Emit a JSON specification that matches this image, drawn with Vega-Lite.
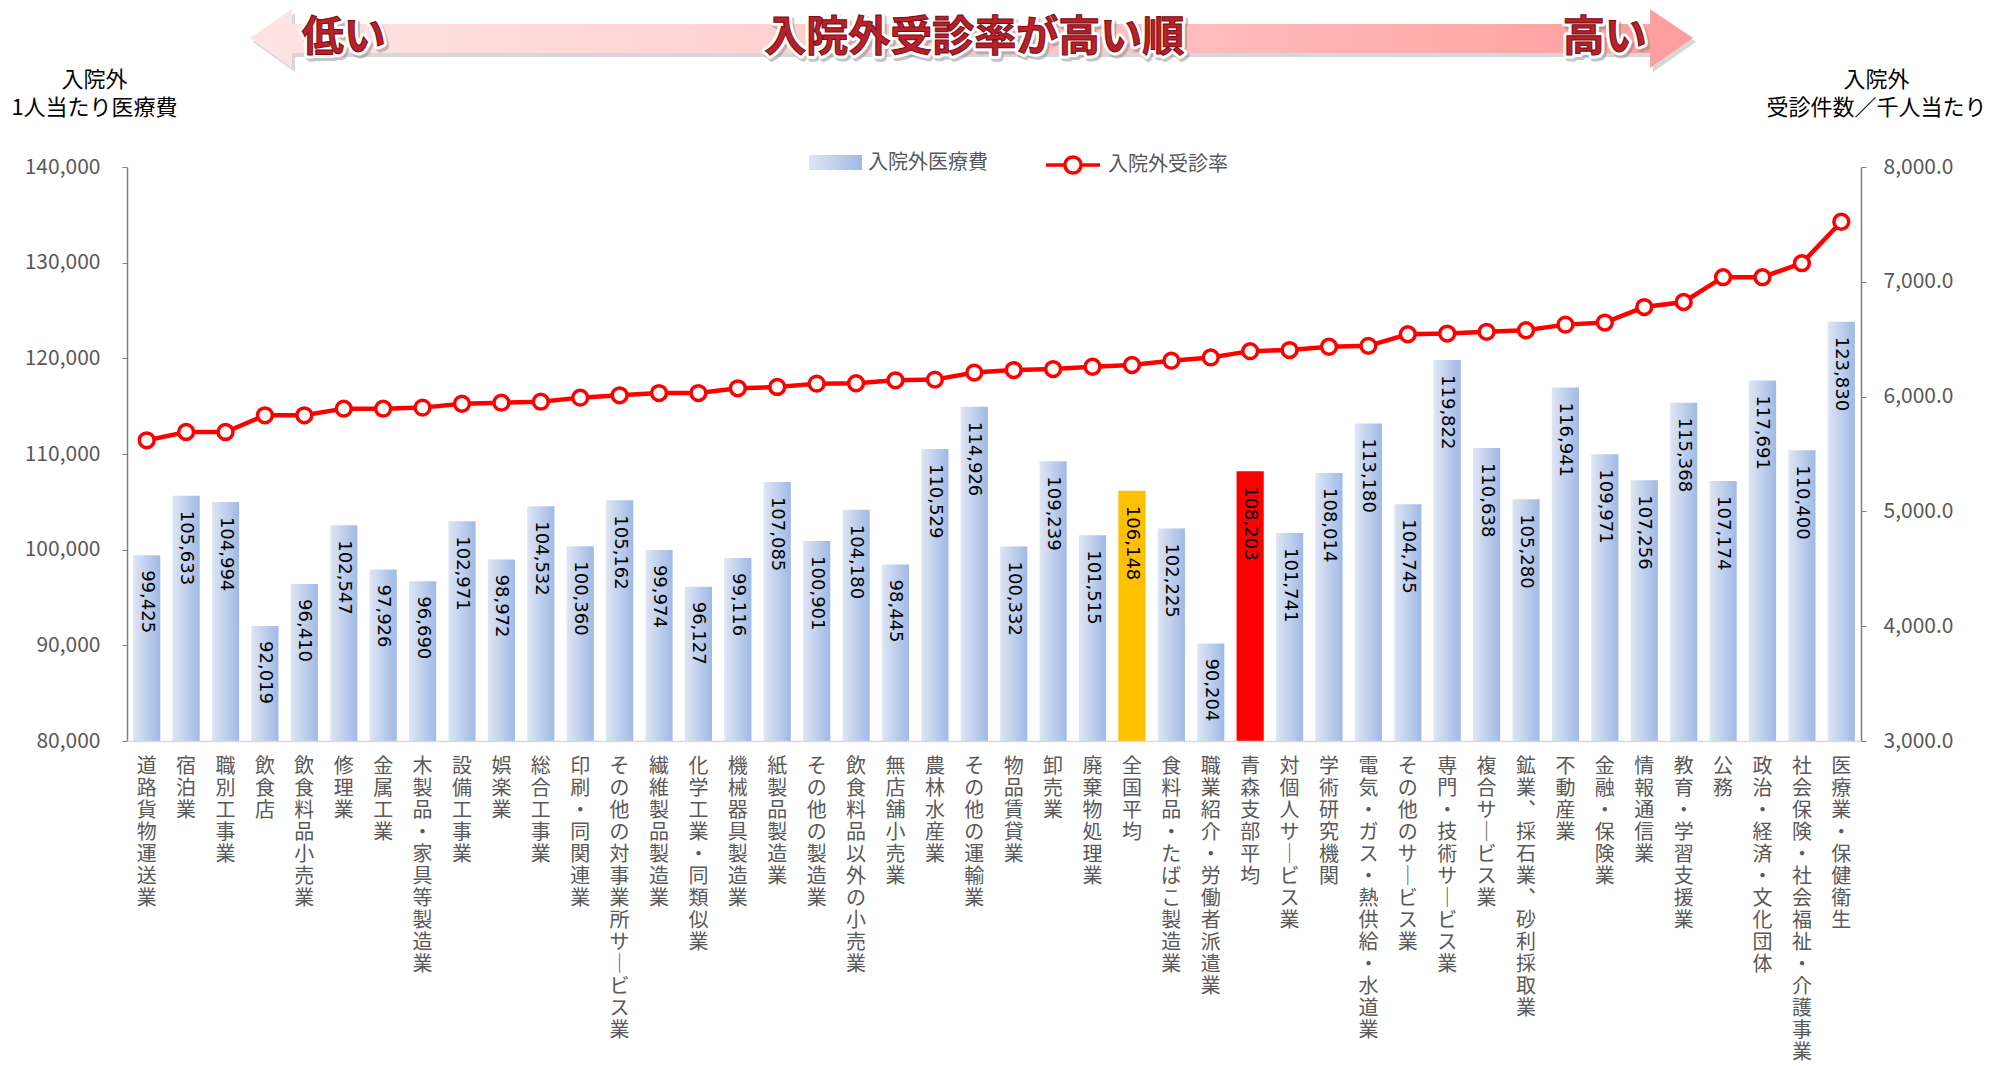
{
  "$schema": "https://vega.github.io/schema/vega-lite/v6.json",
  "width": 1734,
  "height": 574,
  "autosize": {"type": "none"},
  "padding": {"left": 127, "top": 167, "right": 134, "bottom": 325},
  "background": "white",
  "config": {"view": {"stroke": null}, "font": "Noto Sans CJK JP"},
  "data": {"values": [
    {"cat": "道路貨物運送業", "cost": 99425, "rate": 5619},
    {"cat": "宿泊業", "cost": 105633, "rate": 5692},
    {"cat": "職別工事業", "cost": 104994, "rate": 5692},
    {"cat": "飲食店", "cost": 92019, "rate": 5837},
    {"cat": "飲食料品小売業", "cost": 96410, "rate": 5837},
    {"cat": "修理業", "cost": 102547, "rate": 5895},
    {"cat": "金属工業", "cost": 97926, "rate": 5895},
    {"cat": "木製品・家具等製造業", "cost": 96690, "rate": 5904},
    {"cat": "設備工事業", "cost": 102971, "rate": 5938},
    {"cat": "娯楽業", "cost": 98972, "rate": 5947},
    {"cat": "総合工事業", "cost": 104532, "rate": 5956},
    {"cat": "印刷・同関連業", "cost": 100360, "rate": 5991},
    {"cat": "その他の対事業所サービス業", "cost": 105162, "rate": 6011},
    {"cat": "繊維製品製造業", "cost": 99974, "rate": 6031},
    {"cat": "化学工業・同類似業", "cost": 96127, "rate": 6031},
    {"cat": "機械器具製造業", "cost": 99116, "rate": 6072},
    {"cat": "紙製品製造業", "cost": 107085, "rate": 6084},
    {"cat": "その他の製造業", "cost": 100901, "rate": 6113},
    {"cat": "飲食料品以外の小売業", "cost": 104180, "rate": 6116},
    {"cat": "無店舗小売業", "cost": 98445, "rate": 6142},
    {"cat": "農林水産業", "cost": 110529, "rate": 6148},
    {"cat": "その他の運輸業", "cost": 114926, "rate": 6209},
    {"cat": "物品賃貸業", "cost": 100332, "rate": 6231},
    {"cat": "卸売業", "cost": 109239, "rate": 6240},
    {"cat": "廃棄物処理業", "cost": 101515, "rate": 6260},
    {"cat": "全国平均", "cost": 106148, "rate": 6275},
    {"cat": "食料品・たばこ製造業", "cost": 102225, "rate": 6312},
    {"cat": "職業紹介・労働者派遣業", "cost": 90204, "rate": 6341},
    {"cat": "青森支部平均", "cost": 108203, "rate": 6396},
    {"cat": "対個人サービス業", "cost": 101741, "rate": 6405},
    {"cat": "学術研究機関", "cost": 108014, "rate": 6434},
    {"cat": "電気・ガス・熱供給・水道業", "cost": 113180, "rate": 6442},
    {"cat": "その他のサービス業", "cost": 104745, "rate": 6543},
    {"cat": "専門・技術サービス業", "cost": 119822, "rate": 6549},
    {"cat": "複合サービス業", "cost": 110638, "rate": 6564},
    {"cat": "鉱業、採石業、砂利採取業", "cost": 105280, "rate": 6578},
    {"cat": "不動産業", "cost": 116941, "rate": 6627},
    {"cat": "金融・保険業", "cost": 109971, "rate": 6645},
    {"cat": "情報通信業", "cost": 107256, "rate": 6780},
    {"cat": "教育・学習支援業", "cost": 115368, "rate": 6824},
    {"cat": "公務", "cost": 107174, "rate": 7040},
    {"cat": "政治・経済・文化団体", "cost": 117691, "rate": 7040},
    {"cat": "社会保険・社会福祉・介護事業", "cost": 110400, "rate": 7162},
    {"cat": "医療業・保健衛生", "cost": 123830, "rate": 7523}
  ]},
  "encoding": {
    "x": {
      "field": "cat",
      "type": "nominal",
      "sort": null,
      "scale": {"paddingInner": 0.31, "paddingOuter": 0.155},
      "axis": {
        "title": null,
        "labelExpr": "split(replace(replace(datum.label, regexp('ー', 'g'), '｜'), regexp('、', 'g'), '︑'), '')",
        "labelAngle": 0,
        "labelAlign": "center",
        "labelBaseline": "top",
        "labelFont": "Noto Sans CJK JP",
        "labelFontSize": 20,
        "labelLineHeight": 22,
        "labelColor": "#595959",
        "labelPadding": 15,
        "labelOverlap": false,
        "labelLimit": 0,
        "ticks": false,
        "domainColor": "#D9D9D9",
        "domainWidth": 1.5,
        "zindex": 1
      }
    }
  },
  "layer": [
    {
      "encoding": {
        "y": {
          "field": "cost",
          "type": "quantitative",
          "scale": {"domain": [80000, 140000], "nice": false, "zero": false},
          "axis": {
            "title": ["入院外", "1人当たり医療費"],
            "titleAngle": 0,
            "titleAlign": "center",
            "titleBaseline": "top",
            "titleX": -33,
            "titleY": -98,
            "titleFont": "Noto Sans CJK JP",
            "titleFontSize": 22,
            "titleFontWeight": "normal",
            "titleColor": "#000000",
            "titleLineHeight": 28,
            "values": [80000, 90000, 100000, 110000, 120000, 130000, 140000],
            "format": ",d",
            "labelFont": "Noto Sans CJK JP",
            "labelFontSize": 21,
            "labelColor": "#595959",
            "labelPadding": 22,
            "tickSize": 5,
            "tickColor": "#7F7F7F",
            "domainColor": "#7F7F7F",
            "domainWidth": 1.5,
            "grid": false
          }
        }
      },
      "layer": [
        {
          "mark": {"type": "bar", "strokeWidth": 0, "clip": true},
          "encoding": {
            "fill": {
              "condition": [
                {"test": "datum.cat === '全国平均'", "value": "#FFC000"},
                {"test": "datum.cat === '青森支部平均'", "value": "#FF0000"}
              ],
              "value": {"gradient": "linear", "x1": 0, "y1": 0, "x2": 1, "y2": 0,
                "stops": [{"offset": 0, "color": "#DFE6F5"}, {"offset": 1, "color": "#A0B9E4"}]}
            },
            "stroke": {
              "datum": "入院外医療費",
              "type": "nominal",
              "scale": {"domain": ["入院外医療費"], "range": ["#B4C7E7"]},
              "legend": {
                "orient": "none",
                "legendX": 682,
                "legendY": -31,
                "direction": "horizontal",
                "title": null,
                "padding": 0,
                "labelFont": "Noto Sans CJK JP",
                "labelFontSize": 20,
                "labelColor": "#595959",
                "labelOffset": 6,
                "symbolSize": 2809,
                "symbolStrokeWidth": 0,
                "symbolType": "M-1,-0.28H1V0.28H-1Z"
              }
            }
          }
        },
        {
          "mark": {"type": "text", "angle": 90, "align": "left", "baseline": "middle", "dx": 15, "font": "DejaVu Sans", "fontSize": 18, "color": "#000000"},
          "encoding": {
            "text": {"field": "cost", "type": "quantitative", "format": ",d"}
          }
        },
        {
          "transform": [{"filter": "datum.cat === 'その他の運輸業'"}],
          "mark": {"type": "point", "clip": false, "filled": true, "fill": "#8C8C8C", "opacity": 0.35, "strokeWidth": 0, "size": 2082249,
            "shape": "M-1.0,0.0055 L-0.9415,-0.0347 L-0.9415,-0.0139 L0.9407,-0.0139 L0.9407,-0.0347 L1.0003,0.0055 L0.9407,0.0471 L0.9407,0.0263 L-0.9415,0.0263 L-0.9415,0.0471 Z"},
          "encoding": {"y": {"datum": 153484, "type": "quantitative"}}
        },
        {
          "transform": [{"filter": "datum.cat === 'その他の運輸業'"}],
          "mark": {"type": "point", "clip": false, "filled": true, "opacity": 1, "strokeWidth": 0, "size": 2082249,
            "fill": {"gradient": "linear", "x1": 0, "y1": 0, "x2": 1, "y2": 0,
              "stops": [{"offset": 0, "color": "#FFE4E4"}, {"offset": 0.5, "color": "#FFCACA"}, {"offset": 1, "color": "#FF9C9C"}]},
            "shape": "M-1.0039,0 L-0.9457,-0.0402 L-0.9457,-0.0194 L0.9365,-0.0194 L0.9365,-0.0402 L0.9961,0 L0.9365,0.0416 L0.9365,0.0208 L-0.9457,0.0208 L-0.9457,0.0416 Z"},
          "encoding": {"y": {"datum": 153484, "type": "quantitative"}}
        },
        {
          "transform": [{"filter": "datum.cat === '修理業' || datum.cat === 'その他の運輸業' || datum.cat === '金融・保険業'"}],
          "mark": {"type": "text", "clip": false, "align": "center", "baseline": "middle", "dx": 2, "dy": 3, "font": "Noto Sans CJK JP", "fontWeight": "bold", "fontSize": 42,
            "fill": "#7F7F7F", "stroke": "#7F7F7F", "strokeWidth": 7, "strokeJoin": "round", "opacity": 0.45},
          "encoding": {
            "y": {"datum": 153484, "type": "quantitative"},
            "text": {"condition": [
              {"test": "datum.cat === '修理業'", "value": "低い"},
              {"test": "datum.cat === '金融・保険業'", "value": "高い"}
            ], "value": "入院外受診率が高い順"}
          }
        },
        {
          "transform": [{"filter": "datum.cat === '修理業' || datum.cat === 'その他の運輸業' || datum.cat === '金融・保険業'"}],
          "mark": {"type": "text", "clip": false, "align": "center", "baseline": "middle", "font": "Noto Sans CJK JP", "fontWeight": "bold", "fontSize": 42,
            "fill": "#FFFFFF", "stroke": "#FFFFFF", "strokeWidth": 7, "strokeJoin": "round"},
          "encoding": {
            "y": {"datum": 153484, "type": "quantitative"},
            "text": {"condition": [
              {"test": "datum.cat === '修理業'", "value": "低い"},
              {"test": "datum.cat === '金融・保険業'", "value": "高い"}
            ], "value": "入院外受診率が高い順"}
          }
        },
        {
          "transform": [{"filter": "datum.cat === '修理業' || datum.cat === 'その他の運輸業' || datum.cat === '金融・保険業'"}],
          "mark": {"type": "text", "clip": false, "align": "center", "baseline": "middle", "font": "Noto Sans CJK JP", "fontWeight": "bold", "fontSize": 42,
            "fill": "#B8212A", "stroke": "#7A0C12", "strokeWidth": 1},
          "encoding": {
            "y": {"datum": 153484, "type": "quantitative"},
            "text": {"condition": [
              {"test": "datum.cat === '修理業'", "value": "低い"},
              {"test": "datum.cat === '金融・保険業'", "value": "高い"}
            ], "value": "入院外受診率が高い順"}
          }
        }
      ]
    },
    {
      "encoding": {
        "y": {
          "field": "rate",
          "type": "quantitative",
          "scale": {"domain": [3000, 8000], "nice": false, "zero": false},
          "axis": {
            "orient": "right",
            "title": ["入院外", "受診件数／千人当たり"],
            "titleAngle": 0,
            "titleAlign": "center",
            "titleBaseline": "top",
            "titleX": 15,
            "titleY": -98,
            "titleFont": "Noto Sans CJK JP",
            "titleFontSize": 22,
            "titleFontWeight": "normal",
            "titleColor": "#000000",
            "titleLineHeight": 28,
            "values": [3000, 4000, 5000, 6000, 7000, 8000],
            "format": ",.1f",
            "labelFont": "Noto Sans CJK JP",
            "labelFontSize": 21,
            "labelColor": "#595959",
            "labelPadding": 17,
            "tickSize": 5,
            "tickColor": "#7F7F7F",
            "domainColor": "#7F7F7F",
            "domainWidth": 1.5,
            "grid": false
          }
        }
      },
      "layer": [
        {
          "mark": {"type": "line", "strokeWidth": 4.5},
          "encoding": {
            "color": {
              "datum": "入院外受診率",
              "type": "nominal",
              "scale": {"domain": ["入院外受診率"], "range": ["#FF0000"]},
              "legend": {
                "orient": "none",
                "legendX": 917,
                "legendY": -31,
                "direction": "horizontal",
                "title": null,
                "padding": 0,
                "labelFont": "Noto Sans CJK JP",
                "labelFontSize": 20,
                "labelColor": "#595959",
                "labelOffset": 6,
                "symbolSize": 2916,
                "symbolStrokeWidth": 3.5,
                "symbolFillColor": "#FFFFFF",
                "symbolStrokeColor": "#FF0000",
                "symbolType": "M-1,0H-0.3M0.3,0H1M-0.3,0A0.3,0.3 0 1,0 0.3,0A0.3,0.3 0 1,0 -0.3,0Z"
              }
            }
          }
        },
        {
          "mark": {"type": "point", "shape": "circle", "filled": true, "fill": "#FFFFFF", "stroke": "#FF0000", "strokeWidth": 3.5, "size": 220, "opacity": 1}
        }
      ]
    }
  ],
  "resolve": {"scale": {"y": "independent"}}
}
